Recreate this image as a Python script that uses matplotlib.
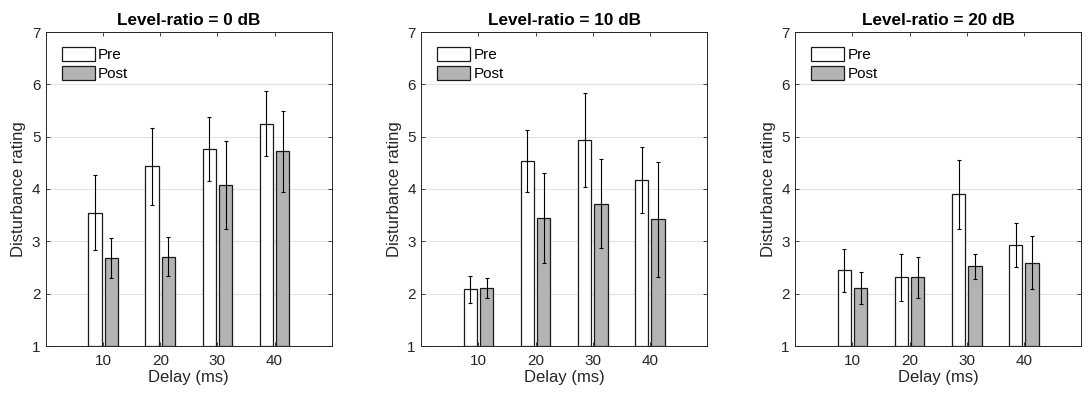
import matplotlib
matplotlib.use("Agg")
import matplotlib.pyplot as plt
import numpy as np

plt.rcParams['font.family'] = ['Liberation Sans', 'DejaVu Sans']

delays = ["10", "20", "30", "40"]
titles = ["Level-ratio = 0 dB", "Level-ratio = 10 dB", "Level-ratio = 20 dB"]

pre_0 = [3.55, 4.43, 4.76, 5.25]
pre_0_err = [0.71, 0.74, 0.61, 0.62]
post_0 = [2.68, 2.71, 4.07, 4.72]
post_0_err = [0.38, 0.375, 0.84, 0.77]

pre_10 = [2.08, 4.54, 4.93, 4.18]
pre_10_err = [0.26, 0.59, 0.90, 0.63]
post_10 = [2.10, 3.44, 3.72, 3.42]
post_10_err = [0.19, 0.86, 0.85, 1.10]

pre_20 = [2.45, 2.31, 3.90, 2.93]
pre_20_err = [0.41, 0.445, 0.66, 0.42]
post_20 = [2.11, 2.31, 2.52, 2.59]
post_20_err = [0.30, 0.39, 0.24, 0.51]

panels = [
    (pre_0, pre_0_err, post_0, post_0_err),
    (pre_10, pre_10_err, post_10, post_10_err),
    (pre_20, pre_20_err, post_20, post_20_err),
]

fig = plt.figure(figsize=(10.9, 3.98), dpi=100)
lefts = [46 / 1090, 421.3 / 1090, 795.3 / 1090]
W = 285.7 / 1090
B = (398 - 346) / 398
H = 314 / 398

spine_c = '#262626'
x = np.arange(1, len(delays) + 1)
off = 0.142
bw = 0.236

for i, (pre, pre_e, post, post_e) in enumerate(panels):
    ax = fig.add_axes([lefts[i], B, W, H])
    ax.set_axisbelow(True)
    ax.yaxis.grid(True, color='#e3e3e3', linewidth=0.8)
    ax.bar(x - off, np.array(pre) - 1, bw, bottom=1, color='white',
           edgecolor='#1a1a1a', linewidth=0.9, label='Pre', zorder=2)
    ax.bar(x + off, np.array(post) - 1, bw, bottom=1, color='#b3b3b3',
           edgecolor='#1a1a1a', linewidth=0.9, label='Post', zorder=2)
    ax.errorbar(x - off, pre, yerr=pre_e, fmt='none', ecolor='black',
                elinewidth=0.8, capsize=1.6, capthick=0.8, zorder=3)
    ax.errorbar(x + off, post, yerr=post_e, fmt='none', ecolor='black',
                elinewidth=0.8, capsize=1.6, capthick=0.8, zorder=3)
    ax.set_xlim(0, 5)
    ax.set_ylim(1, 7)
    ax.set_xticks(x)
    ax.set_xticklabels(delays)
    ax.set_yticks(np.arange(1, 8))
    ax.tick_params(axis='both', direction='in', length=3, width=0.6,
                   colors=spine_c, labelsize=11, top=True, right=True, pad=4)
    ax.tick_params(axis='x', pad=6)
    for s in ax.spines.values():
        s.set_color(spine_c)
        s.set_linewidth(0.7)
    ax.set_xlabel('Delay (ms)', fontsize=12, color=spine_c, labelpad=1)
    ax.set_ylabel('Disturbance rating', fontsize=12, color=spine_c, labelpad=4)
    ax.set_title(titles[i], fontsize=12.3, fontweight='bold', pad=5)
    leg = ax.legend(loc='upper left', frameon=False, fontsize=11,
                    handlelength=2.16, handleheight=1.0, handletextpad=0.2,
                    labelspacing=0.25, borderaxespad=0.0, borderpad=0.0,
                    bbox_to_anchor=(16 / 285.7, 1 - 15 / 314))

fig.savefig('out.png', dpi=100)
